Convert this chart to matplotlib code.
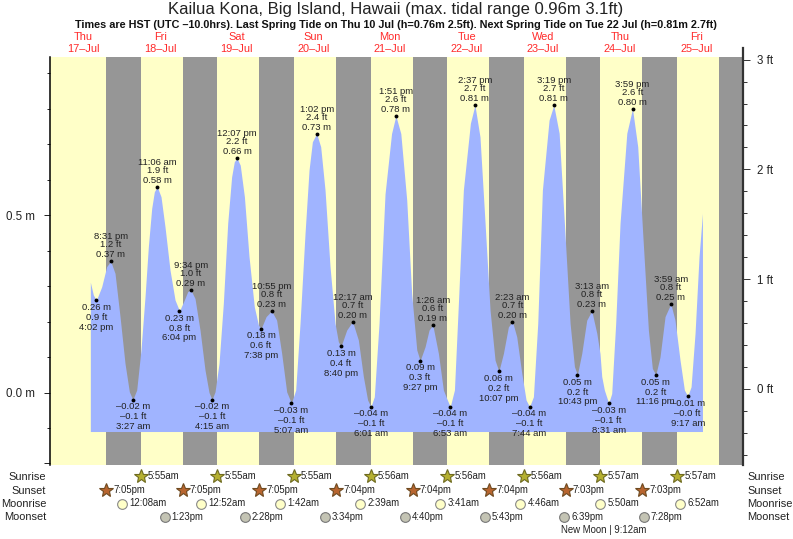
import matplotlib
matplotlib.use("Agg")
import matplotlib.pyplot as plt

plt.rcParams['font.family'] = ['Liberation Sans', 'DejaVu Sans']

# tide extremes (day = days after 17 Jul)
tide_day = [0, 0, 1, 1, 1, 1, 2, 2, 2, 2, 3, 3, 3, 4, 4, 4, 4, 5, 5, 5, 5, 6, 6, 6, 6, 7, 7, 7, 7, 8, 8]
tide_time = ["4:02 pm", "8:31 pm", "3:27 am", "11:06 am", "6:04 pm", "9:34 pm",
             "4:15 am", "12:07 pm", "7:38 pm", "10:55 pm", "5:07 am", "1:02 pm", "8:40 pm",
             "12:17 am", "6:01 am", "1:51 pm", "9:27 pm", "1:26 am", "6:53 am", "2:37 pm", "10:07 pm",
             "2:23 am", "7:44 am", "3:19 pm", "10:43 pm", "3:13 am", "8:31 am", "3:59 pm", "11:16 pm",
             "3:59 am", "9:17 am"]
tide_m = ["0.26", "0.37", "–0.02", "0.58", "0.23", "0.29",
          "–0.02", "0.66", "0.18", "0.23", "–0.03", "0.73", "0.13",
          "0.20", "–0.04", "0.78", "0.09", "0.19", "–0.04", "0.81", "0.06",
          "0.20", "–0.04", "0.81", "0.05", "0.23", "–0.03", "0.80", "0.05",
          "0.25", "–0.01"]
tide_ft = ["0.9", "1.2", "–0.1", "1.9", "0.8", "1.0",
           "–0.1", "2.2", "0.6", "0.8", "–0.1", "2.4", "0.4",
           "0.7", "–0.1", "2.6", "0.3", "0.6", "–0.1", "2.7", "0.2",
           "0.7", "–0.1", "2.7", "0.2", "0.8", "–0.1", "2.6", "0.2",
           "0.8", "–0.0"]
tide_high = [0, 1, 0, 1, 0, 1, 0, 1, 0, 1, 0, 1, 0, 1, 0, 1, 0, 1, 0, 1, 0, 1, 0, 1, 0, 1, 0, 1, 0, 1, 0]

# water level curve (hours after 17 Jul 00:00, metres)
curve_hours = [14.14, 15.08, 16.03, 17.69, 19.26, 20.52, 21.87, 23.44, 25.0, 26.36, 27.45, 28.66, 30.0,
               31.27, 32.31, 33.36, 34.19, 35.1, 36.28, 37.53, 39.1, 40.67, 42.07, 43.59, 44.63, 45.57,
               46.93, 48.5, 50.07, 51.32, 52.25, 53.2, 54.45, 55.8, 57.17, 58.4, 59.25, 60.12, 61.1,
               62.4, 63.85, 65.5, 66.8, 67.63, 69.2, 70.92, 72.5, 74.08, 75.65, 77.12, 78.47, 79.83,
               81.4, 82.65, 83.7, 85.03, 86.3, 87.66, 89.23, 90.8, 91.84, 92.67, 94.45, 96.28, 98.1,
               99.67, 101.0, 102.02, 103.1, 104.58, 106.46, 108.5, 109.85, 111.4, 113.25, 114.8,
               116.4, 117.45, 119.0, 120.25, 121.43, 123.18, 124.74, 125.8, 126.88, 128.2, 129.44,
               131.0, 133.2, 134.62, 136.2, 137.8, 139.36, 140.93, 142.12, 143.54, 145.1, 146.38,
               147.72, 149.3, 150.64, 151.73, 152.94, 154.3, 155.76, 157.85, 159.32, 161.0, 162.65,
               164.43, 165.8, 166.72, 168.08, 169.65, 171.22, 172.8, 173.8, 174.35, 175.17, 176.52,
               177.47, 178.72, 180.08, 182.2, 183.98, 185.62, 187.18, 188.96, 190.2, 191.27, 192.6,
               194.18, 195.98, 197.3, 198.88, 200.24, 201.28, 202.33, 203.58, 204.83, 205.9]
curve_m = [0.311, 0.275, 0.26, 0.298, 0.355, 0.37, 0.336, 0.214, 0.082, 0.002, -0.02, 0.007, 0.12,
           0.27, 0.411, 0.519, 0.566, 0.58, 0.552, 0.467, 0.345, 0.261, 0.23, 0.261, 0.284, 0.29,
           0.265, 0.176, 0.063, 0.0, -0.02, 0.002, 0.082, 0.251, 0.477, 0.608, 0.651, 0.66, 0.641,
           0.552, 0.383, 0.242, 0.19, 0.18, 0.214, 0.23, 0.204, 0.11, 0.002, -0.03, 0.007, 0.195,
           0.449, 0.627, 0.707, 0.73, 0.693, 0.571, 0.355, 0.195, 0.143, 0.13, 0.176, 0.20, 0.148,
           0.045, -0.021, -0.04, -0.012, 0.195, 0.56, 0.73, 0.78, 0.73, 0.543, 0.279,
           0.12, 0.09, 0.129, 0.176, 0.19, 0.11, 0.007, -0.017, -0.04, 0.007, 0.251,
           0.571, 0.759, 0.81, 0.721, 0.477, 0.232, 0.091, 0.06, 0.11, 0.185, 0.20,
           0.157, 0.054, -0.021, -0.04, -0.012, 0.195, 0.571, 0.768, 0.81, 0.731, 0.477,
           0.195, 0.073, 0.05, 0.11, 0.204, 0.23, 0.167, 0.11, 0.045, 0.007, -0.03,
           -0.003, 0.195, 0.477, 0.731, 0.80, 0.693, 0.449, 0.176, 0.068, 0.05, 0.1,
           0.214, 0.25, 0.204, 0.091, 0.007, -0.01, 0.016, 0.167, 0.383, 0.505]

day_names = ["Thu", "Fri", "Sat", "Sun", "Mon", "Tue", "Wed", "Thu", "Fri"]
day_dates = ["17–Jul", "18–Jul", "19–Jul", "20–Jul", "21–Jul", "22–Jul", "23–Jul", "24–Jul", "25–Jul"]

# first entry of each is on 18 Jul (sunrise, moonrise, moonset), 17 Jul for sunset
sunrise = ["5:55am", "5:55am", "5:55am", "5:56am", "5:56am", "5:56am", "5:57am", "5:57am"]
sunset = ["7:05pm", "7:05pm", "7:05pm", "7:04pm", "7:04pm", "7:04pm", "7:03pm", "7:03pm"]
last_sunset = "7:03pm"
moonrise = ["12:08am", "12:52am", "1:42am", "2:39am", "3:41am", "4:46am", "5:50am", "6:52am"]
moonset = ["1:23pm", "2:28pm", "3:34pm", "4:40pm", "5:43pm", "6:39pm", "7:28pm"]


def to_hours(day, text):
    # "7:05pm" or "7:05 pm" -> hours after 17 Jul 00:00
    text = text.replace(" ", "")
    hh, mm = text[:-2].split(":")
    hour = int(hh) % 12
    if text.endswith("pm"):
        hour += 12
    return day * 24 + hour + int(mm) / 60


W, H = 793, 539
fig = plt.figure(figsize=(W / 100, H / 100), dpi=100)

ax = fig.add_axes([50 / W, (H - 465) / H, 693 / W, 408 / H])
ax.set_xlim(1.5, 218.6)
ax.set_ylim(-0.2044, 0.9459)
ax.set_facecolor("#FFFFC8")
ax.set_xticks([])

# night bands, sunset to next sunrise
for i in range(len(sunset)):
    ax.axvspan(to_hours(i, sunset[i]), to_hours(i + 1, sunrise[i]), color="#969696", lw=0, zorder=1)
ax.axvspan(to_hours(8, last_sunset), 218.6, color="#969696", lw=0, zorder=1)

ax.fill_between(curve_hours, curve_m, -0.11, color="#A0B4FF", lw=0, zorder=2)

for i in range(len(tide_time)):
    t = to_hours(tide_day[i], tide_time[i])
    h = float(tide_m[i].replace("–", "-"))
    ax.plot([t], [h], "o", color="black", ms=2.8, mew=0, zorder=4, clip_on=False)
    if tide_high[i]:
        offs = [6.5, 16.5, 24.5]
    else:
        offs = [-7.3, -17.3, -27]
    lines = [tide_m[i] + " m", tide_ft[i] + " ft", tide_time[i]]
    for off, line in zip(offs, lines):
        # offsets were measured in pixels
        ax.annotate(line, (t, h), xytext=(0, off * 0.72), textcoords="offset points",
                    ha="center", va="center", fontsize=6.8, color="#222222", zorder=5)

for spine in ["top", "right", "bottom"]:
    ax.spines[spine].set_visible(False)
ax.spines["left"].set_linewidth(1.1)
ax.set_yticks([-0.2, 0.0, 0.5])
ax.set_yticks([-0.1, 0.1, 0.2, 0.3, 0.4, 0.6, 0.7, 0.8, 0.9], minor=True)
ax.set_yticklabels(["", "0.0 m", "0.5 m"], fontsize=8.3, color="#222222")
ax.tick_params(axis="y", which="major", length=4.5, width=0.7, pad=6, color="#222222")
ax.tick_params(axis="y", which="minor", length=2.3, width=0.7, color="#222222")

# feet axis on the right runs a bit above the plot
ax_ft = fig.add_axes([50 / W, (H - 465) / H, 693 / W, 417 / H])
ax_ft.patch.set_visible(False)
ax_ft.set_xticks([])
ax_ft.set_ylim(-0.6955, 3.106)
for spine in ["top", "left", "bottom"]:
    ax_ft.spines[spine].set_visible(False)
ax_ft.spines["right"].set_linewidth(1.6)
ax_ft.spines["right"].set_color("#333333")
ax_ft.yaxis.tick_right()
ax_ft.set_yticks([0, 1, 2, 3])
ax_ft.set_yticks([-0.6, -0.4, -0.2, 0.2, 0.4, 0.6, 0.8, 1.2, 1.4, 1.6, 1.8,
                  2.2, 2.4, 2.6, 2.8], minor=True)
ax_ft.set_yticklabels(["0 ft", "1 ft", "2 ft", "3 ft"], fontsize=8.3, color="#222222")
ax_ft.tick_params(axis="y", which="major", length=5, width=0.7, pad=4.8, color="#333333")
ax_ft.tick_params(axis="y", which="minor", length=2.8, width=0.7, color="#333333")

# titles
fig.text(395.5 / W, 1 - 9.5 / H, "Kailua Kona, Big Island, Hawaii (max. tidal range 0.96m 3.1ft)",
         ha="center", va="center", fontsize=12.0, color="#222222")
fig.text(396 / W, 1 - 25.5 / H,
         "Times are HST (UTC –10.0hrs). Last Spring Tide on Thu 10 Jul (h=0.76m 2.5ft). "
         "Next Spring Tide on Tue 22 Jul (h=0.81m 2.7ft)",
         ha="center", va="center", fontsize=7.85, fontweight="bold", color="#111111")

# day headers sit at noon of each day
blend = ax.get_xaxis_transform()
for i in range(len(day_names)):
    ax.text(i * 24 + 12, 1 + 19.5 / 408, day_names[i], transform=blend, ha="center", va="center",
            fontsize=7.9, color="#FF2A2A", clip_on=False)
    ax.text(i * 24 + 12, 1 + 7.5 / 408, day_dates[i], transform=blend, ha="center", va="center",
            fontsize=7.9, color="#FF2A2A", clip_on=False)

# sun and moon rows under the plot, y in axes fraction
rows = {"Sunrise": -11 / 408, "Sunset": -25 / 408, "Moonrise": -38.5 / 408, "Moonset": -52 / 408}
for name, y in rows.items():
    ax.text(-4 / 693, y - 0.5 / 408, name, transform=ax.transAxes, ha="right", va="center", fontsize=7.9, color="#222222")
    ax.text(1 + 4 / 693, y - 0.5 / 408, name, transform=ax.transAxes, ha="left", va="center", fontsize=7.9, color="#222222")


def event_row(name, start_day, times, marker, ms, face, edge):
    y = rows[name]
    for i, txt in enumerate(times):
        t = to_hours(start_day + i, txt)
        ax.plot([t], [y], marker, transform=blend, ms=ms, mfc=face, mec=edge, mew=0.8, clip_on=False, zorder=6)
        ax.annotate(txt, (t, y), xycoords=blend, xytext=(5.2, 0), textcoords="offset points",
                    ha="left", va="center", fontsize=6.9, color="#222222")


event_row("Sunrise", 1, sunrise, "*", 10, "#B5B030", "#6E6A20")
event_row("Sunset", 0, sunset, "*", 10, "#B8652F", "#6E4A20")
event_row("Moonrise", 1, moonrise, "o", 7, "#FFFFC8", "#888888")
event_row("Moonset", 1, moonset, "o", 7, "#C4C4B4", "#777777")

fig.text(603.7 / W, 1 - 530 / H, "New Moon | 9:12am", ha="center", va="center", fontsize=6.9, color="#222222")

fig.savefig("out.png", dpi=100)
